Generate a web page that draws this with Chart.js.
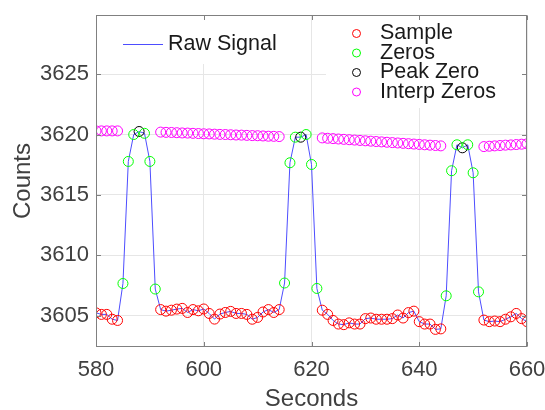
<!DOCTYPE html>
<html>
<head>
<meta charset="utf-8">
<script src="https://cdn.jsdelivr.net/npm/chart.js@4.4.1/dist/chart.umd.min.js"></script>
<style>
  html, body { margin: 0; padding: 0; background: #fff; }
  #wrap { width: 545px; height: 410px; }
</style>
</head>
<body>
<div id="wrap"><canvas id="signalChart" width="545" height="410"></canvas></div>
<script>
const seconds = [
    580, 581, 582, 583, 584, 585, 586, 587, 588, 589, 590, 591, 592, 593, 594, 595, 596, 597, 598, 599,
    600, 601, 602, 603, 604, 605, 606, 607, 608, 609, 610, 611, 612, 613, 614, 615, 616, 617, 618, 619,
    620, 621, 622, 623, 624, 625, 626, 627, 628, 629, 630, 631, 632, 633, 634, 635, 636, 637, 638, 639,
    640, 641, 642, 643, 644, 645, 646, 647, 648, 649, 650, 651, 652, 653, 654, 655, 656, 657, 658, 659,
    660
];

const rawSignal = [
    3605.23, 3605.1, 3605.1, 3604.7, 3604.6, 3607.66, 3617.77, 3620.0, 3620.25, 3620.1,
    3617.77, 3607.2, 3605.5, 3605.37, 3605.45, 3605.54, 3605.6, 3605.26, 3605.5, 3605.4,
    3605.55, 3605.18, 3604.71, 3605.13, 3605.26, 3605.35, 3605.18, 3605.18, 3605.1, 3604.7,
    3604.85, 3605.3, 3605.5, 3605.26, 3605.5, 3607.7, 3617.66, 3619.78, 3619.78, 3620.0,
    3617.52, 3607.25, 3605.45, 3605.1, 3604.6, 3604.3, 3604.25, 3604.4, 3604.3, 3604.3,
    3604.75, 3604.8, 3604.7, 3604.7, 3604.7, 3604.75, 3605.05, 3604.8, 3605.25, 3605.37,
    3604.5, 3604.3, 3604.3, 3603.86, 3603.9, 3606.64, 3617.0, 3619.15, 3618.9, 3619.15,
    3616.83, 3606.97, 3604.63, 3604.5, 3604.55, 3604.5, 3604.7, 3604.9, 3605.18, 3604.75,
    3604.5
];

const zeroSeconds = [585, 586, 587, 589, 590, 591, 615, 616, 617, 619, 620, 621, 645, 646, 647, 649, 650, 651];
const peakSeconds = [588, 618, 648];

// null where the peak windows are
const interpZeros = [
    3620.3, 3620.3, 3620.3, 3620.3, 3620.3, null, null, null, null, null,
    null, null, 3620.2, 3620.18, 3620.17, 3620.15, 3620.13, 3620.12, 3620.1, 3620.08,
    3620.06, 3620.05, 3620.03, 3620.01, 3620.0, 3619.98, 3619.96, 3619.95, 3619.93, 3619.91,
    3619.9, 3619.88, 3619.86, 3619.85, 3619.83, null, null, null, null, null,
    null, null, 3619.72, 3619.69, 3619.66, 3619.63, 3619.6, 3619.57, 3619.54, 3619.51,
    3619.48, 3619.45, 3619.42, 3619.39, 3619.36, 3619.33, 3619.3, 3619.27, 3619.24, 3619.21,
    3619.18, 3619.15, 3619.12, 3619.09, 3619.06, null, null, null, null, null,
    null, null, 3619.0, 3619.03, 3619.06, 3619.09, 3619.12, 3619.14, 3619.17, 3619.2,
    3619.23
];

const xTicks = [580, 600, 620, 640, 660];
const yTicks = [3605, 3610, 3615, 3620, 3625];

const axisColor = '#808080';
const textColor = '#404040';
const fontName = "'Liberation Sans', Arial, sans-serif";

const rawPoints = seconds.map((s, i) => ({ x: s, y: rawSignal[i] }));
const samplePoints = rawPoints.filter(p => !zeroSeconds.includes(p.x) && !peakSeconds.includes(p.x));
const zeroPoints = rawPoints.filter(p => zeroSeconds.includes(p.x));
const peakPoints = rawPoints.filter(p => peakSeconds.includes(p.x));
const interpPoints = seconds.map((s, i) => ({ x: s, y: interpZeros[i] })).filter(p => p.y !== null);

function markerSet(label, data, color) {
    return {
        label: label,
        data: data,
        showLine: false,
        pointStyle: 'circle',
        pointRadius: 5,
        pointHoverRadius: 5,
        pointBorderWidth: 1,
        borderColor: color,
        backgroundColor: 'rgba(0,0,0,0)',
        clip: 0,
        order: 0
    };
}

// legends and box drawn by hand, like the matlab figure
const matlabAxes = {
    id: 'matlabAxes',
    afterDraw(chart) {
        const ctx = chart.ctx;
        const area = chart.chartArea;
        const xs = chart.scales.x;
        const ys = chart.scales.y;

        ctx.save();
        ctx.fillStyle = '#ffffff';
        ctx.fillRect(110, 16, 182, 48);
        ctx.fillRect(326, 16, 197, 92);

        ctx.font = '21.5px ' + fontName;
        ctx.textBaseline = 'middle';
        ctx.textAlign = 'left';
        ctx.fillStyle = '#1a1a1a';

        ctx.strokeStyle = '#4d4dff';
        ctx.lineWidth = 1;
        ctx.beginPath();
        ctx.moveTo(123, 44.5);
        ctx.lineTo(163, 44.5);
        ctx.stroke();
        ctx.fillText('Raw Signal', 168, 44);

        const rows = [
            ['Sample', '#ff0000', 33.5],
            ['Zeros', '#00ff00', 53],
            ['Peak Zero', '#000000', 72.5],
            ['Interp Zeros', '#ff00ff', 92]
        ];
        rows.forEach(r => {
            ctx.strokeStyle = r[1];
            ctx.beginPath();
            ctx.arc(356.5, r[2], 4, 0, Math.PI * 2);
            ctx.stroke();
            ctx.fillStyle = '#1a1a1a';
            ctx.fillText(r[0], 380, r[2]);
        });

        // box
        ctx.strokeStyle = axisColor;
        ctx.lineWidth = 1;
        const l = Math.round(area.left) + 0.5;
        const r = Math.round(area.right) - 0.5;
        const t = Math.round(area.top) + 0.5;
        const b = Math.round(area.bottom) - 0.5;
        ctx.strokeRect(l, t, r - l, b - t);

        // inward ticks
        ctx.beginPath();
        xTicks.forEach(v => {
            const px = Math.round(xs.getPixelForValue(v)) + 0.5;
            ctx.moveTo(px, b); ctx.lineTo(px, b - 4.5);
            ctx.moveTo(px, t); ctx.lineTo(px, t + 4.5);
        });
        yTicks.forEach(v => {
            const py = Math.round(ys.getPixelForValue(v)) + 0.5;
            ctx.moveTo(l, py); ctx.lineTo(l + 4.5, py);
            ctx.moveTo(r, py); ctx.lineTo(r - 4.5, py);
        });
        ctx.stroke();
        ctx.restore();
    }
};

const ctx = document.getElementById('signalChart').getContext('2d');

new Chart(ctx, {
    type: 'scatter',
    data: {
        datasets: [
            markerSet('Sample', samplePoints, '#ff0000'),
            markerSet('Zeros', zeroPoints, '#00ff00'),
            markerSet('Peak Zero', peakPoints, '#000000'),
            markerSet('Interp Zeros', interpPoints, '#ff00ff'),
            {
                label: 'Raw Signal',
                data: rawPoints,
                showLine: true,
                borderColor: '#4d4dff',
                borderWidth: 1,
                pointRadius: 0,
                tension: 0,
                clip: 0,
                order: 1
            }
        ]
    },
    options: {
        responsive: false,
        animation: false,
        devicePixelRatio: 1,
        layout: { padding: { left: 0, right: 18, top: 15, bottom: 0 } },
        plugins: {
            legend: { display: false },
            tooltip: { enabled: false }
        },
        scales: {
            x: {
                type: 'linear',
                min: 580,
                max: 660,
                afterBuildTicks: s => { s.ticks = xTicks.map(v => ({ value: v })); },
                afterFit: s => { s.height = 63; s.paddingLeft = 0; s.paddingRight = 0; },
                grid: { color: '#e6e6e6', drawTicks: false },
                border: { display: false },
                ticks: {
                    color: textColor, padding: 10, maxRotation: 0,
                    font: { family: fontName, size: 22 },
                    callback: v => String(v)
                },
                title: {
                    display: true,
                    text: 'Seconds',
                    color: textColor,
                    font: { family: fontName, size: 24, lineHeight: 0.9 },
                    padding: 0
                }
            },
            y: {
                type: 'linear',
                min: 3602.4,
                max: 3629.9,
                afterBuildTicks: s => { s.ticks = yTicks.map(v => ({ value: v })); },
                afterFit: s => { s.width = 96; s.paddingTop = 0; s.paddingBottom = 0; },
                grid: { color: '#e6e6e6', drawTicks: false },
                border: { display: false },
                ticks: {
                    color: textColor, padding: 7,
                    font: { family: fontName, size: 22 },
                    callback: v => String(v)
                },
                title: {
                    display: true,
                    text: 'Counts',
                    color: textColor,
                    font: { family: fontName, size: 24 },
                    padding: { top: 9, bottom: 0 }
                }
            }
        }
    },
    plugins: [matlabAxes]
});
</script>
</body>
</html>
